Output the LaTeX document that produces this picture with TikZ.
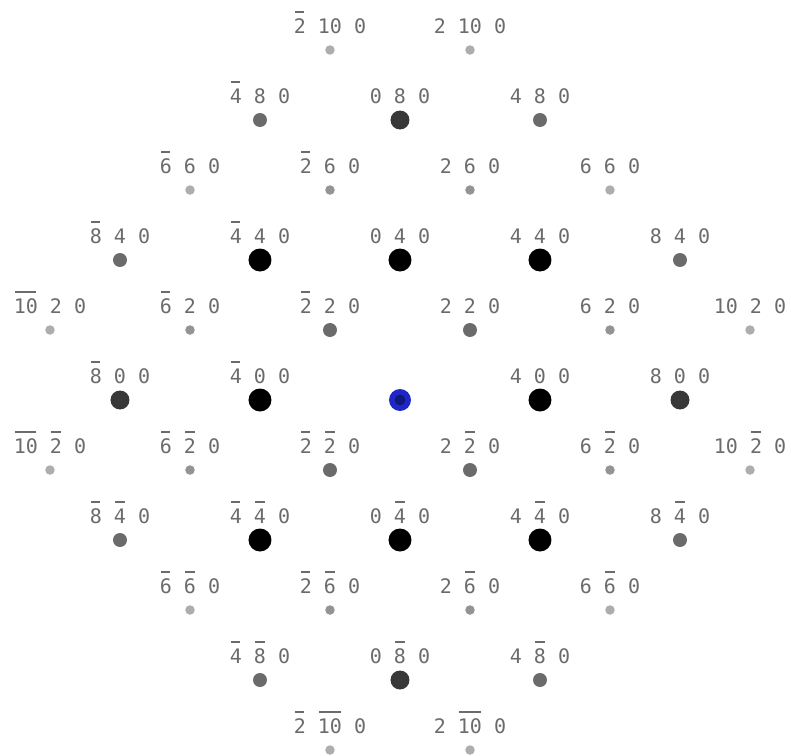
\documentclass[tikz,border=0pt]{standalone}
\usepackage{fontspec}
\newfontfamily\hklfont{DejaVu Sans Mono}
\newcommand\ob[1]{\setbox0\hbox{#1}\rlap{\hspace{1.5pt}\raisebox{\dimexpr\ht0+5.5pt\relax}{\rule{\dimexpr\wd0-3pt\relax}{1.8pt}}}\box0}
\newcommand\ix[1]{\ifnum#1<0 \ob{\the\numexpr0-(#1)\relax}\else#1\fi}
\newcommand\hkl[2]{\ix{#1}\ \ix{#2}\ 0}
\definecolor{beam}{RGB}{30,40,200}
\definecolor{beamcore}{RGB}{15,25,120}
\begin{document}
\begin{tikzpicture}[x=35pt,y=35pt,
                    spot/.style={circle,inner sep=0pt},
                    lab/.style={anchor=base,inner sep=0pt,text=black!58,
                                font=\hklfont\fontsize{20}{20}\selectfont}]
 \useasboundingbox (-11.4286,-10.1714) rectangle (11.1714,11.4286);
 \node[spot,fill=beam,minimum size=22pt] (s00) at (0,0) {};
 \node[spot,fill=beamcore,minimum size=11pt] (c00) at (s00) {};
 \foreach \h/\k in {-4/4,0/4,4/4,-4/0,4/0,-4/-4,0/-4,4/-4}{
  \node[spot,fill=black,minimum size=23pt] (s\h\k) at (\h,\k) {};
  \node[lab] (l\h\k) at ([yshift=17pt]s\h\k.center) {\hkl\h\k};}
 \foreach \h/\k in {0/8,-8/0,8/0,0/-8}{
  \node[spot,fill=black!78,minimum size=19pt] (s\h\k) at (\h,\k) {};
  \node[lab] (l\h\k) at ([yshift=17pt]s\h\k.center) {\hkl\h\k};}
 \foreach \h/\k in {-4/8,4/8,-8/4,8/4,-2/2,2/2,-2/-2,2/-2,-8/-4,8/-4,-4/-8,4/-8}{
  \node[spot,fill=black!58,minimum size=14pt] (s\h\k) at (\h,\k) {};
  \node[lab] (l\h\k) at ([yshift=17pt]s\h\k.center) {\hkl\h\k};}
 \foreach \h/\k in {-2/6,2/6,-6/2,6/2,-6/-2,6/-2,-2/-6,2/-6}{
  \node[spot,fill=black!42,minimum size=9.5pt] (s\h\k) at (\h,\k) {};
  \node[lab] (l\h\k) at ([yshift=17pt]s\h\k.center) {\hkl\h\k};}
 \foreach \h/\k in {-2/10,2/10,-6/6,6/6,-10/2,10/2,-10/-2,10/-2,-6/-6,6/-6,-2/-10,2/-10}{
  \node[spot,fill=black!32,minimum size=9.5pt] (s\h\k) at (\h,\k) {};
  \node[lab] (l\h\k) at ([yshift=17pt]s\h\k.center) {\hkl\h\k};}
\end{tikzpicture}
\end{document}
